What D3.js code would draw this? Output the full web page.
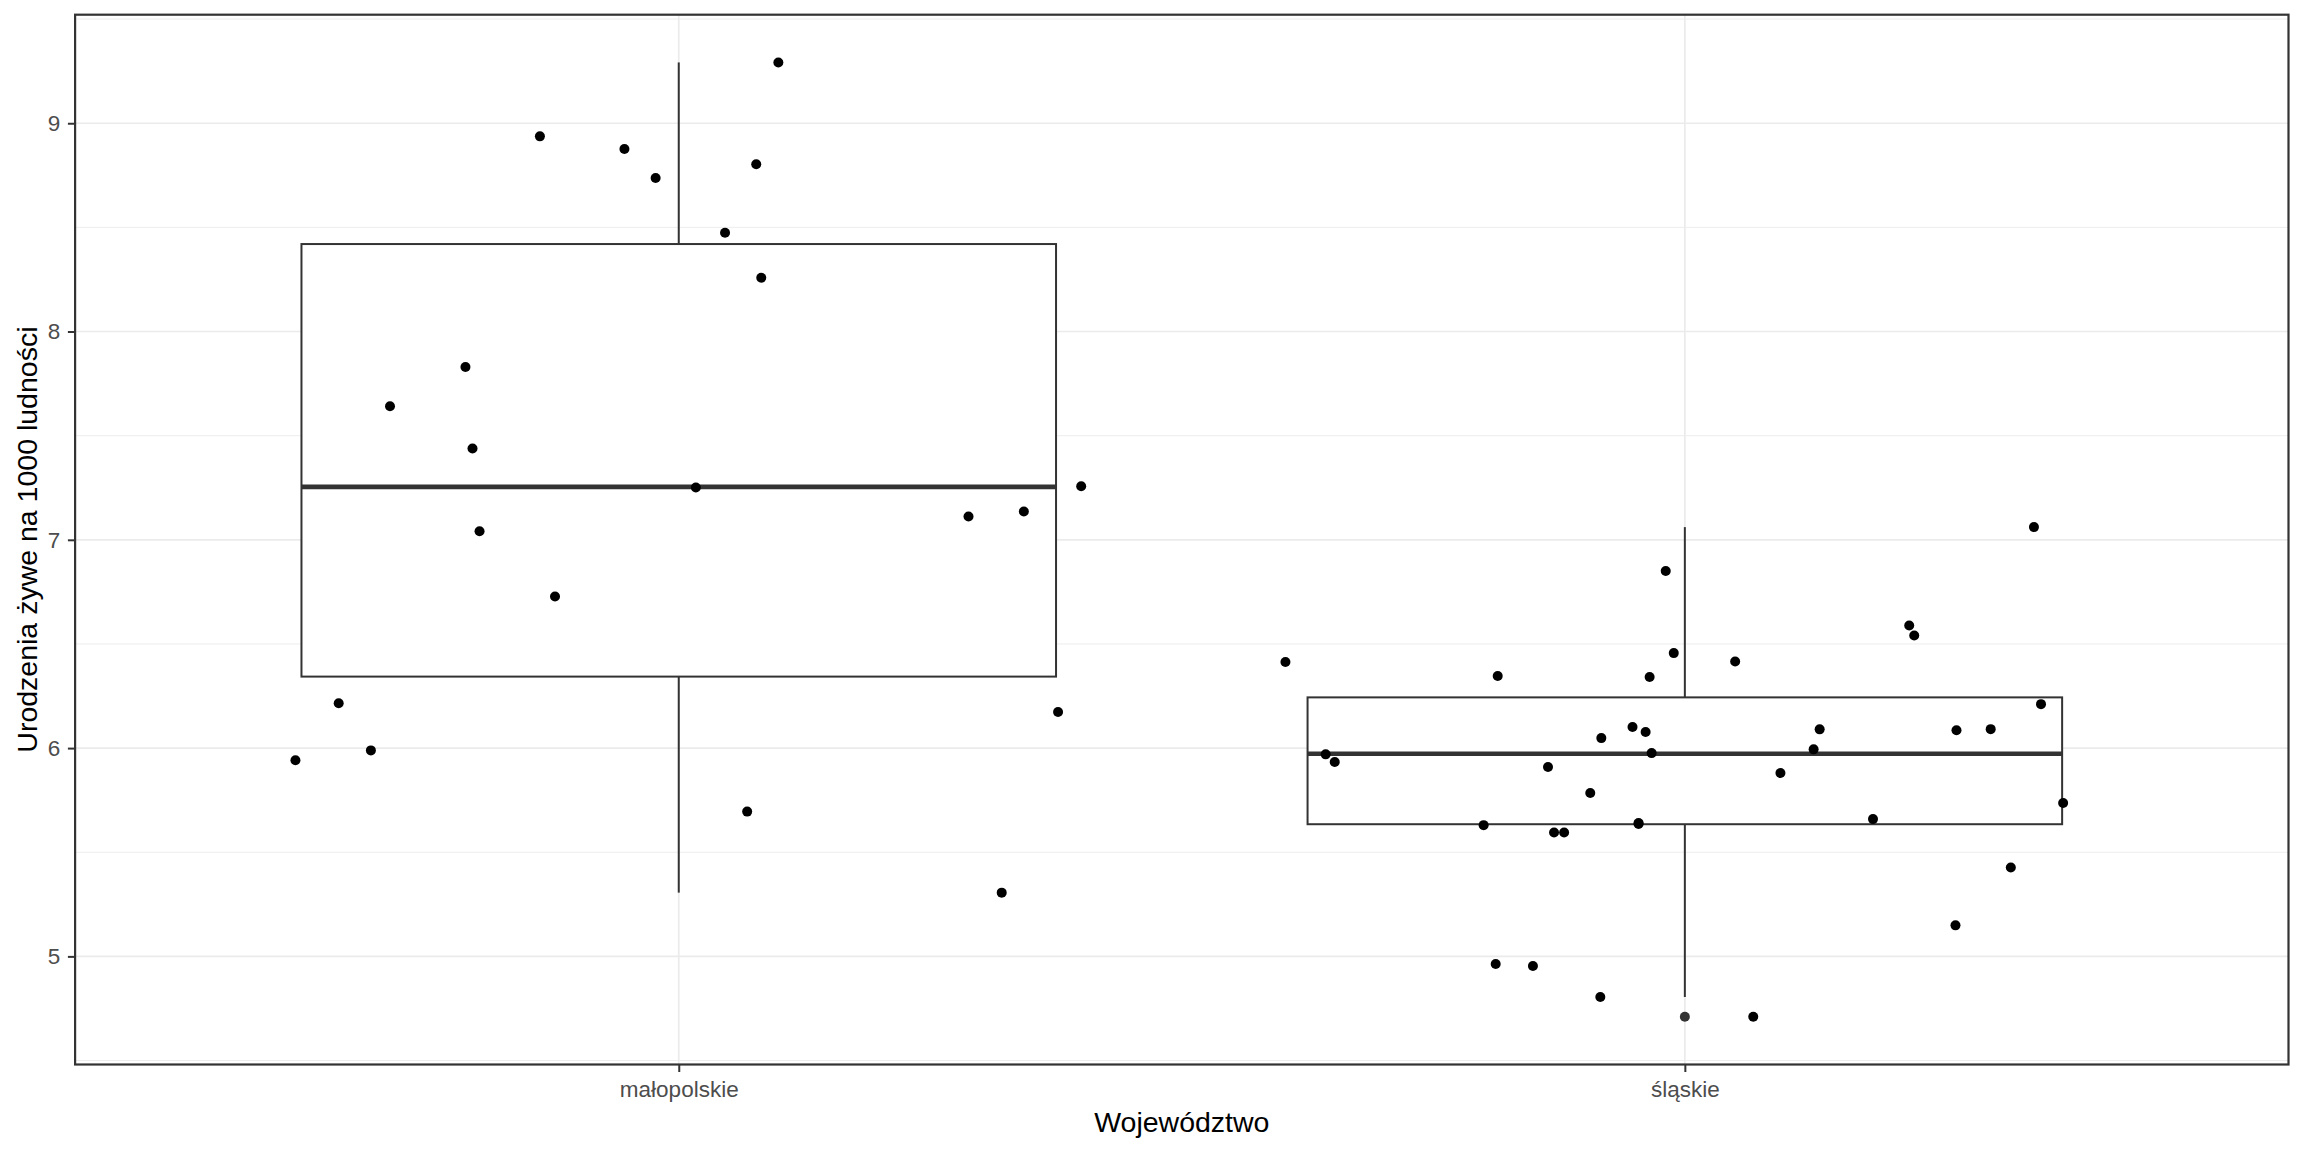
<!DOCTYPE html>
<html>
<head>
<meta charset="utf-8">
<script src="https://cdn.jsdelivr.net/npm/d3@7"></script>
<style>
  html, body { margin: 0; padding: 0; background: #fff; }
  svg { display: block; font-family: "Liberation Sans", Arial, sans-serif; }
</style>
</head>
<body>
<div id="chart"></div>
<script>
// kategorie (województwa)
const categories = ["małopolskie", "śląskie"];

// urodzenia żywe na 1000 ludności - małopolskie
const malopolskieValues = [8.937, 8.876, 8.737, 7.830, 7.641, 7.438, 7.041, 6.728, 6.215, 5.989, 5.942,
    7.251, 9.292, 8.803, 8.474, 8.258, 7.112, 7.136, 7.257, 6.173, 5.695, 5.306];
// przesunięcie jitter (w jednostkach kategorii)
const malopolskieJitter = [-0.138, -0.054, -0.023, -0.212, -0.287, -0.205, -0.198, -0.123, -0.338, -0.306, -0.381,
    0.017, 0.099, 0.077, 0.046, 0.082, 0.288, 0.343, 0.400, 0.377, 0.068, 0.321];

// śląskie
const slaskieValues = [6.413, 5.970, 5.933, 6.346, 5.630, 4.963, 4.954, 5.909, 5.595, 5.595, 5.784, 4.805,
    6.048, 6.101, 5.640, 6.077, 6.341, 5.976, 6.850, 6.456, 6.416, 6.090, 5.994, 5.880, 5.659, 6.589,
    6.541, 6.086, 6.091, 5.149, 5.427, 7.061, 6.211, 5.736, 4.710, 5.636];
const slaskieJitter = [-0.397, -0.357, -0.348, -0.186, -0.200, -0.188, -0.151, -0.136, -0.130, -0.120, -0.094, -0.084,
    -0.083, -0.052, -0.046, -0.039, -0.035, -0.033, -0.019, -0.011, 0.050, 0.134, 0.128, 0.095, 0.187, 0.223,
    0.228, 0.270, 0.304, 0.269, 0.324, 0.347, 0.354, 0.376, 0.068, -0.046];

const yTicks = [5, 6, 7, 8, 9];
const yMinorTicks = [4.5, 5.5, 6.5, 7.5, 8.5, 9.5];

const xTitle = "Województwo";
const yTitle = "Urodzenia żywe na 1000 ludności";

const groups = [
    {name: categories[0], values: malopolskieValues, jitter: malopolskieJitter},
    {name: categories[1], values: slaskieValues, jitter: slaskieJitter}
];

drawChart(groups);

function boxStats(values) {
    const s = values.slice().sort(d3.ascending);
    const q1 = d3.quantile(s, 0.25);
    const med = d3.quantile(s, 0.5);
    const q3 = d3.quantile(s, 0.75);
    const iqr = q3 - q1;
    const lo = q1 - 1.5 * iqr, hi = q3 + 1.5 * iqr;
    const inside = s.filter(v => v >= lo && v <= hi);
    return {
        q1, med, q3,
        wLow: d3.min(inside),
        wHigh: d3.max(inside),
        outliers: s.filter(v => v < lo || v > hi)
    };
}

function drawChart(groups) {
    const width = 2304, height = 1152;
    const margin = {top: 14.7, right: 15.5, bottom: 87.5, left: 75.1};

    const svg = d3.select("#chart")
        .append("svg")
        .attr("width", width)
        .attr("height", height);

    svg.append("rect").attr("width", width).attr("height", height).attr("fill", "#fff");

    const allValues = groups.flatMap(g => g.values);
    const [vmin, vmax] = d3.extent(allValues);
    const pad = (vmax - vmin) * 0.05;

    const x = d3.scalePoint()
        .domain(categories)
        .range([margin.left, width - margin.right])
        .padding(0.6);

    const y = d3.scaleLinear()
        .domain([vmin - pad, vmax + pad])
        .range([height - margin.bottom, margin.top]);

    const step = x.step();
    const boxHalf = step * 0.75 / 2;

    // siatka
    const grid = svg.append("g");
    grid.selectAll(".minor")
        .data(yMinorTicks.filter(t => t > y.domain()[0] && t < y.domain()[1]))
        .join("line")
        .attr("x1", margin.left).attr("x2", width - margin.right)
        .attr("y1", d => y(d)).attr("y2", d => y(d))
        .attr("stroke", "#EBEBEB").attr("stroke-width", 0.9);
    grid.selectAll(".majorY")
        .data(yTicks)
        .join("line")
        .attr("x1", margin.left).attr("x2", width - margin.right)
        .attr("y1", d => y(d)).attr("y2", d => y(d))
        .attr("stroke", "#EBEBEB").attr("stroke-width", 1.7);
    grid.selectAll(".majorX")
        .data(categories)
        .join("line")
        .attr("x1", d => x(d)).attr("x2", d => x(d))
        .attr("y1", margin.top).attr("y2", height - margin.bottom)
        .attr("stroke", "#EBEBEB").attr("stroke-width", 1.7);

    // boxplot
    const boxes = svg.append("g")
        .selectAll("g")
        .data(groups.map(g => ({name: g.name, st: boxStats(g.values)})))
        .join("g");

    boxes.append("line")
        .attr("x1", d => x(d.name)).attr("x2", d => x(d.name))
        .attr("y1", d => y(d.st.wHigh)).attr("y2", d => y(d.st.q3))
        .attr("stroke", "#333333").attr("stroke-width", 2);
    boxes.append("line")
        .attr("x1", d => x(d.name)).attr("x2", d => x(d.name))
        .attr("y1", d => y(d.st.q1)).attr("y2", d => y(d.st.wLow))
        .attr("stroke", "#333333").attr("stroke-width", 2);
    boxes.append("rect")
        .attr("x", d => x(d.name) - boxHalf)
        .attr("width", boxHalf * 2)
        .attr("y", d => y(d.st.q3))
        .attr("height", d => y(d.st.q1) - y(d.st.q3))
        .attr("fill", "#fff")
        .attr("stroke", "#333333").attr("stroke-width", 2);
    boxes.append("line")
        .attr("x1", d => x(d.name) - boxHalf).attr("x2", d => x(d.name) + boxHalf)
        .attr("y1", d => y(d.st.med)).attr("y2", d => y(d.st.med))
        .attr("stroke", "#333333").attr("stroke-width", 4.6);
    boxes.selectAll(".outlier")
        .data(d => d.st.outliers.map(v => ({name: d.name, v})))
        .join("circle")
        .attr("cx", d => x(d.name))
        .attr("cy", d => y(d.v))
        .attr("r", 5)
        .attr("fill", "#333333");

    // punkty (jitter)
    const pts = groups.flatMap(g => g.values.map((v, i) => ({name: g.name, v, j: g.jitter[i]})));
    svg.append("g")
        .selectAll("circle")
        .data(pts)
        .join("circle")
        .attr("cx", d => x(d.name) + d.j * step)
        .attr("cy", d => y(d.v))
        .attr("r", 5)
        .attr("fill", "#000");

    // ramka panelu
    svg.append("rect")
        .attr("x", margin.left).attr("y", margin.top)
        .attr("width", width - margin.left - margin.right)
        .attr("height", height - margin.top - margin.bottom)
        .attr("fill", "none")
        .attr("stroke", "#333333").attr("stroke-width", 2.2);

    // osie
    const yAxis = svg.append("g")
        .attr("transform", `translate(${margin.left},0)`)
        .call(d3.axisLeft(y).tickValues(yTicks).tickFormat(d3.format("d")).tickSize(7.2).tickPadding(7.6));
    yAxis.select(".domain").remove();
    yAxis.selectAll("line").attr("stroke", "#333333").attr("stroke-width", 2);
    yAxis.selectAll("text")
        .attr("fill", "#4D4D4D")
        .style("font-size", "22.5px")
        .style("font-family", "'Liberation Sans', Arial, sans-serif");

    const xAxis = svg.append("g")
        .attr("transform", `translate(0,${height - margin.bottom})`)
        .call(d3.axisBottom(x).tickSize(7.5).tickPadding(9));
    xAxis.select(".domain").remove();
    xAxis.selectAll("line").attr("stroke", "#333333").attr("stroke-width", 2);
    xAxis.selectAll("text")
        .attr("fill", "#4D4D4D")
        .style("font-size", "22.5px")
        .style("font-family", "'Liberation Sans', Arial, sans-serif");

    // tytuły osi
    svg.append("text")
        .attr("x", (margin.left + width - margin.right) / 2)
        .attr("y", 1132)
        .attr("text-anchor", "middle")
        .attr("fill", "#000")
        .style("font-size", "28.5px")
        .text(xTitle);

    svg.append("text")
        .attr("transform", `translate(37,${(margin.top + height - margin.bottom) / 2}) rotate(-90)`)
        .attr("text-anchor", "middle")
        .attr("fill", "#000")
        .style("font-size", "28.5px")
        .text(yTitle);
}
</script>
</body>
</html>
